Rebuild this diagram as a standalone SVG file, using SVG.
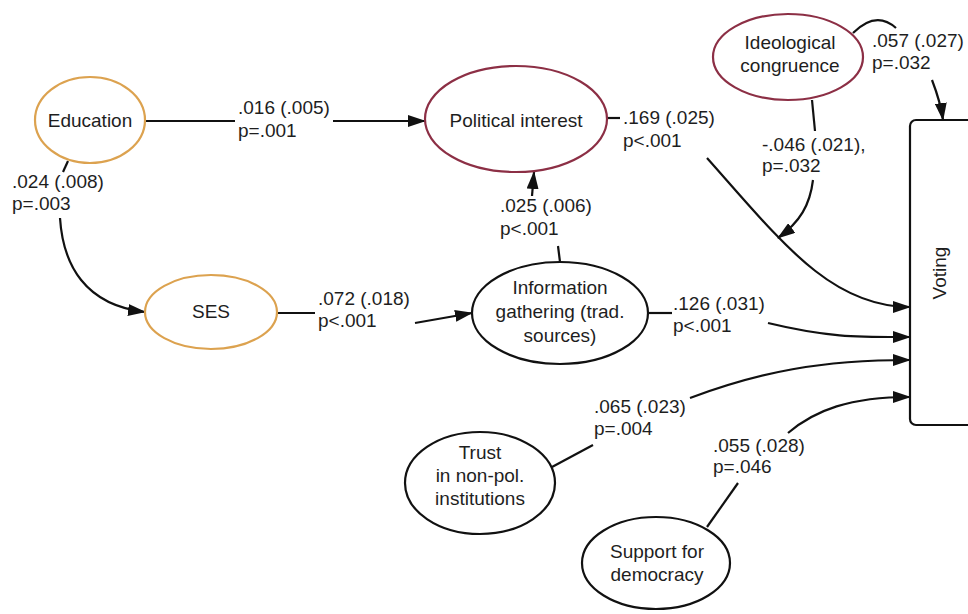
<svg xmlns="http://www.w3.org/2000/svg" width="968" height="614" viewBox="0 0 968 614">
<style>
text{font-family:"Liberation Sans",Arial,sans-serif;font-size:19px;fill:#1e1e1e}
.n{fill:#fff;stroke:#111;stroke-width:2.2}
.o{fill:#fff;stroke:#dca24f;stroke-width:2.2}
.r{fill:#fff;stroke:#8c2f45;stroke-width:2.2}
.c{fill:none;stroke:#111;stroke-width:2.2}
.m{text-anchor:middle}
</style>
<defs>
<marker id="arr" viewBox="0 0 18 12" refX="17" refY="6" markerWidth="18" markerHeight="12" orient="auto" markerUnits="userSpaceOnUse">
<path d="M0,0 L18,6 L0,12 z" fill="#111"/>
</marker>
</defs>
<rect width="968" height="614" fill="#fff"/>
<g id="connectors">
<path class="c" d="M145,121 L235,121"/>
<path class="c" d="M333,121 L425,121" marker-end="url(#arr)"/>
<path class="c" d="M68,161 L63,172"/>
<path class="c" d="M60,218 C 63,265 85,305 145,312" marker-end="url(#arr)"/>
<path class="c" d="M277,313 L315,313"/>
<path class="c" d="M415,323 L472,313" marker-end="url(#arr)"/>
<path class="c" d="M560,262 L558,246"/>
<path class="c" d="M532,196 L534,172" marker-end="url(#arr)"/>
<path class="c" d="M607,118 L620,118"/>
<path class="c" d="M707,158 C 780,240 830,307 910,307" marker-end="url(#arr)"/>
<path class="c" d="M812,100 L815,131"/>
<path class="c" d="M813,180 C 810,205 800,222 778,238" marker-end="url(#arr)"/>
<path class="c" d="M853,33 Q 876,10 896,28"/>
<path class="c" d="M932,80 C 937,93 941,105 943,120" marker-end="url(#arr)"/>
<path class="c" d="M648,313 L672,313"/>
<path class="c" d="M768,323 C 830,338 860,337 910,337" marker-end="url(#arr)"/>
<path class="c" d="M552,467 L593,445"/>
<path class="c" d="M690,398 C 760,372 820,360 910,360" marker-end="url(#arr)"/>
<path class="c" d="M707,527 L738,483"/>
<path class="c" d="M788,433 C 815,410 850,397 910,397" marker-end="url(#arr)"/>
</g>
<g id="labels">
<text x="238" y="114">.016 (.005)</text>
<text x="238" y="137">p=.001</text>
<text x="12" y="188">.024 (.008)</text>
<text x="12" y="210">p=.003</text>
<text x="318" y="305">.072 (.018)</text>
<text x="318" y="327">p&lt;.001</text>
<text x="500" y="212">.025 (.006)</text>
<text x="500" y="235">p&lt;.001</text>
<text x="623" y="124">.169 (.025)</text>
<text x="623" y="147">p&lt;.001</text>
<text x="762" y="151">-.046 (.021),</text>
<text x="762" y="172">p=.032</text>
<text x="872" y="47">.057 (.027)</text>
<text x="872" y="69">p=.032</text>
<text x="673" y="310">.126 (.031)</text>
<text x="673" y="332">p&lt;.001</text>
<text x="594" y="413">.065 (.023)</text>
<text x="594" y="435">p=.004</text>
<text x="713" y="452">.055 (.028)</text>
<text x="713" y="473">p=.046</text>
</g>
<g id="education"><ellipse class="o" cx="90" cy="120" rx="55" ry="43"/><text class="m" x="90" y="127">Education</text></g>
<g id="ses"><ellipse class="o" cx="211" cy="312" rx="66" ry="37"/><text class="m" x="211" y="318">SES</text></g>
<g id="political-interest"><ellipse class="r" cx="516" cy="119" rx="91" ry="53"/><text class="m" x="516" y="127">Political interest</text></g>
<g id="ideological-congruence"><ellipse class="r" cx="788" cy="57" rx="75" ry="43"/><text class="m" x="790" y="49">Ideological</text><text class="m" x="790" y="72">congruence</text></g>
<g id="information-gathering"><ellipse class="n" cx="560" cy="313" rx="88" ry="51"/><text class="m" x="560" y="294">Information</text><text class="m" x="560" y="318">gathering (trad.</text><text class="m" x="560" y="342">sources)</text></g>
<g id="trust"><ellipse class="n" cx="480" cy="483" rx="75" ry="51"/><text class="m" x="480" y="459">Trust</text><text class="m" x="480" y="482">in non-pol.</text><text class="m" x="480" y="505">institutions</text></g>
<g id="support-democracy"><ellipse class="n" cx="656" cy="563" rx="74" ry="46"/><text class="m" x="657" y="558">Support for</text><text class="m" x="657" y="581">democracy</text></g>
<g id="voting"><rect class="n" x="910" y="120" width="90" height="305" rx="6"/><text class="m" transform="translate(946,273) rotate(-90)">Voting</text></g>
</svg>
